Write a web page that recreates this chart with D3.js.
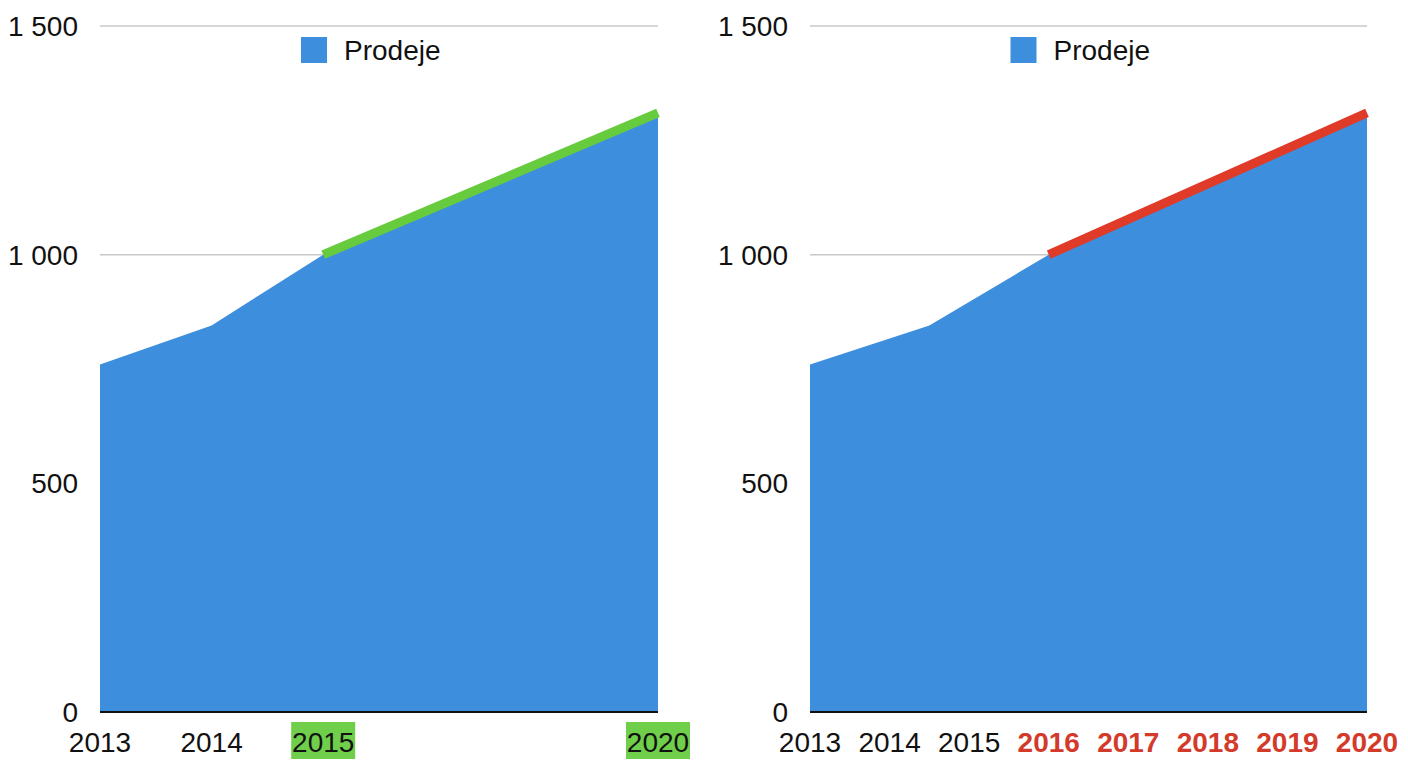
<!DOCTYPE html>
<html>
<head>
<meta charset="utf-8">
<script src="https://cdn.jsdelivr.net/npm/d3@7"></script>
<style>
  body { margin: 0; background: #fff; }
  text { font-family: "Liberation Sans", Arial, sans-serif; }
</style>
</head>
<body>
<div id="wrapper"></div>
<script>
// sales values (same shape in both panels)
const salesValues = [760, 845, 1000, 1310]
// left panel: where each value sits on the squeezed axis
const leftPositions = [0, 1, 2, 5]
const leftTickPos = [0, 1, 2, 5]
const leftTickLabels = ["2013", "2014", "2015", "2020"]
const leftHighlight = ["2015", "2020"]
// right panel: real years
const rightPositions = [2013, 2014.5, 2016, 2020]
const rightTickYears = [2013, 2014, 2015, 2016, 2017, 2018, 2019, 2020]
const rightHighlightFrom = 2016
const yTicks = [0, 500, 1000, 1500]
const seriesName = "Prodeje"

const width = 1408, height = 768
const fmt = d3.formatLocale({ decimal: ",", thousands: " ", grouping: [3], currency: ["", ""] }).format(",")

const svg = d3.select("#wrapper").append("svg")
    .attr("width", width)
    .attr("height", height)

const y = d3.scaleLinear().domain([0, 1500]).range([712, 26])

function drawPanel(opts) {
    const x = d3.scaleLinear().domain(opts.domain).range(opts.range)
    const g = svg.append("g")

    // gridlines
    g.selectAll(".grid")
        .data(yTicks.filter(d => d > 0))
        .join("line")
        .attr("x1", opts.range[0]).attr("x2", opts.range[1])
        .attr("y1", d => y(d)).attr("y2", d => y(d))
        .attr("stroke", "#c8c8c8")
        .attr("stroke-width", 1.5)

    const pts = opts.positions.map((p, i) => ({ p: p, v: salesValues[i] }))

    const area = d3.area()
        .x(d => x(d.p))
        .y0(y(0))
        .y1(d => y(d.v))
    g.append("path")
        .datum(pts)
        .attr("d", area)
        .attr("fill", "#3d8fde")

    // highlighted last segment
    const line = d3.line().x(d => x(d.p)).y(d => y(d.v))
    g.append("path")
        .datum(pts.slice(2))
        .attr("d", line)
        .attr("fill", "none")
        .attr("stroke", opts.accent)
        .attr("stroke-width", 9)

    // baseline
    g.append("line")
        .attr("x1", opts.range[0]).attr("x2", opts.range[1])
        .attr("y1", y(0)).attr("y2", y(0))
        .attr("stroke", "#111")
        .attr("stroke-width", 2)

    // y labels
    g.selectAll(".ylab")
        .data(yTicks)
        .join("text")
        .attr("x", opts.range[0] - 22)
        .attr("y", d => y(d))
        .attr("dy", "0.36em")
        .attr("text-anchor", "end")
        .attr("font-size", 28)
        .attr("fill", "#111")
        .text(d => fmt(d))

    // legend
    const midX = (opts.range[0] + opts.range[1]) / 2
    g.append("rect")
        .attr("x", midX - 78).attr("y", 37)
        .attr("width", 26).attr("height", 26)
        .attr("fill", "#3d8fde")
    g.append("text")
        .attr("x", midX - 35).attr("y", 60)
        .attr("font-size", 28)
        .attr("fill", "#111")
        .text(seriesName)

    // x labels
    const labs = g.selectAll(".xlab")
        .data(opts.ticks)
        .join("g")
        .attr("transform", d => `translate(${x(d.pos)},752)`)
    labs.filter(d => d.box)
        .append("rect")
        .attr("x", -32).attr("y", -30)
        .attr("width", 64).attr("height", 37)
        .attr("fill", "#6fcf4a")
    labs.append("text")
        .attr("text-anchor", "middle")
        .attr("font-size", 28)
        .attr("font-weight", d => d.bold ? "bold" : "normal")
        .attr("fill", d => d.bold ? "#d33a2a" : "#111")
        .text(d => d.label)
}

drawPanel({
    domain: [0, 5],
    range: [100, 658],
    positions: leftPositions,
    accent: "#66cc3e",
    ticks: leftTickPos.map((p, i) => ({
        pos: p, label: leftTickLabels[i],
        box: leftHighlight.includes(leftTickLabels[i]), bold: false
    }))
})

drawPanel({
    domain: [2013, 2020],
    range: [810, 1367],
    positions: rightPositions,
    accent: "#e03a28",
    ticks: rightTickYears.map(yr => ({
        pos: yr, label: String(yr), box: false, bold: yr >= rightHighlightFrom
    }))
})
</script>
</body>
</html>
